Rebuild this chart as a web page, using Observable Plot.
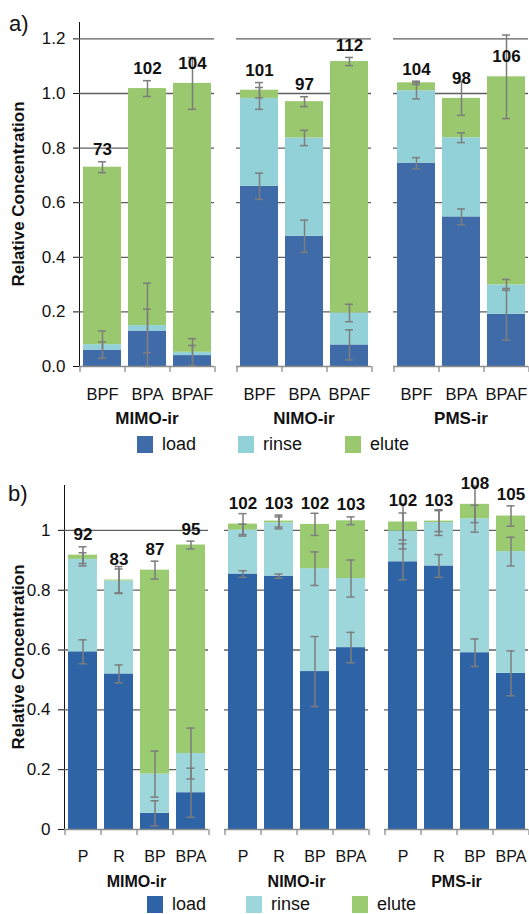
<!DOCTYPE html>
<html><head><meta charset="utf-8">
<script src="https://cdn.jsdelivr.net/npm/d3@7"></script>
<script src="https://cdn.jsdelivr.net/npm/@observablehq/plot@0.6"></script>
<style>
body{margin:0;background:#fff;font-family:"Liberation Sans",Arial,sans-serif;color:#111}
#wrap{position:relative;width:529px;height:914px;overflow:hidden}
.abs{position:absolute}
.plab{font-size:22px;line-height:1}
.ytitle{font-weight:bold;font-size:17px;white-space:nowrap;transform:translate(-50%,-50%) rotate(-90deg);line-height:1}
.legend{display:flex;font-size:18px;align-items:center;line-height:1}
.legend .item{display:flex;align-items:center}
.legend .sw{width:16px;height:17px;margin-right:9px}
svg .domain{stroke:#8c8c8c;stroke-width:1.5}
svg .tick line{stroke:#555}
</style>
</head><body>
<div id="wrap"></div>
<script>
// ---------- data ----------
const groups = ["MIMO-ir", "NIMO-ir", "PMS-ir"];
const seriesNames = ["load", "rinse", "elute"];

// panel a
const catsA = ["BPF", "BPA", "BPAF"];
const loadTopA  = [[0.06, 0.13, 0.04], [0.66, 0.477, 0.079], [0.745, 0.548, 0.191]];
const rinseTopA = [[0.08, 0.15, 0.052], [0.982, 0.837, 0.196], [1.01, 0.838, 0.299]];
const eluteTopA = [[0.73, 1.018, 1.037], [1.012, 0.97, 1.117], [1.039, 0.982, 1.061]];
const loadErrA  = [[0.03, 0.08, 0.037], [0.048, 0.059, 0.055], [0.02, 0.029, 0.095]];
const rinseErrA = [[0.05, 0.155, 0.05], [0.04, 0.028, 0.032], [0.03, 0.018, 0.02]];
const eluteErrA = [[0.02, 0.029, 0.095], [0.028, 0.018, 0.015], [0.006, 0.062, 0.153]];
const totalsA   = [[73, 102, 104], [101, 97, 112], [104, 98, 106]];
const yTicksA = [0, 0.2, 0.4, 0.6, 0.8, 1.0, 1.2];

// panel b
const catsB = ["P", "R", "BP", "BPA"];
const loadTopB  = [[0.594, 0.52, 0.054, 0.123], [0.854, 0.847, 0.528, 0.608], [0.895, 0.881, 0.591, 0.522]];
const rinseTopB = [[0.903, 0.831, 0.185, 0.254], [1.001, 1.025, 0.872, 0.839], [0.998, 1.026, 1.039, 0.929]];
const eluteTopB = [[0.917, 0.834, 0.867, 0.951], [1.021, 1.031, 1.02, 1.032], [1.028, 1.031, 1.087, 1.048]];
const loadErrB  = [[0.04, 0.03, 0.042, 0.082], [0.011, 0.007, 0.117, 0.051], [0.06, 0.038, 0.046, 0.075]];
const rinseErrB = [[0.022, 0.04, 0.077, 0.085], [0.02, 0.02, 0.056, 0.062], [0.06, 0.043, 0.045, 0.048]];
const eluteErrB = [[0.028, 0.045, 0.03, 0.013], [0.035, 0.02, 0.037, 0.013], [0.06, 0.035, 0.061, 0.034]];
const totalsB   = [[92, 83, 87, 95], [102, 103, 102, 103], [102, 103, 108, 105]];
const yTicksB = [0, 0.2, 0.4, 0.6, 0.8, 1];

const colorsA = ["#3f6ca9", "#93d1d8", "#9ac86f"];
const colorsB = ["#2e63a5", "#9dd6db", "#9acb70"];

// ---------- build ----------
function buildRows(cats, tops, errs, totals) {
  const rows = [];
  groups.forEach((g, gi) => cats.forEach((c, ci) => seriesNames.forEach((s, si) => {
    const y2 = tops[si][gi][ci];
    const y1 = si === 0 ? 0 : tops[si - 1][gi][ci];
    const err = errs[si][gi][ci];
    rows.push({group: g, cat: c, series: s, y1, y2, err, total: totals[gi][ci],
      labelY: Math.min(y2 + err, y2 + 0.03)});
  })));
  return rows;
}

const wrap = document.getElementById("wrap");
const errColor = "#7d7d7d";

function panel(o) {
  const {rows, cats, yDomain, yTicks, yFormat, marginTop, marginBottom, marginLeft, fxPad, xIn, xOut, colors, capInset, halfStep, tickDy, catSize, facetSize} = o;
  return Plot.plot({
    width: 529, height: 430, marginTop, marginBottom, marginLeft, marginRight: 0,
    style: {fontFamily: "Liberation Sans, Arial, sans-serif", fontSize: "17px", color: "#111", background: "transparent", overflow: "visible"},
    facet: {data: rows, x: "group"},
    fx: {domain: groups, axis: null, paddingInner: fxPad, paddingOuter: 0},
    x: {domain: cats, paddingInner: xIn, paddingOuter: xOut, axis: null},
    y: {domain: yDomain, ticks: yTicks, tickFormat: yFormat, tickSize: 6, tickPadding: 8, line: true, label: null},
    color: {domain: seriesNames, range: colors},
    marks: [
      Plot.ruleY(yTicks.filter(t => t > 0), {stroke: "#5f5f5f", strokeWidth: 1.3}),
      Plot.barY(rows, {x: "cat", y1: "y1", y2: "y2", fill: "series"}),
      Plot.ruleX(rows, {x: "cat", y1: d => Math.max(0, d.y2 - d.err), y2: d => d.y2 + d.err, stroke: errColor, strokeWidth: 1.5}),
      Plot.tickY(rows, {x: "cat", y: d => Math.max(0, d.y2 - d.err), stroke: errColor, strokeWidth: 1.5, insetLeft: capInset, insetRight: capInset}),
      Plot.tickY(rows, {x: "cat", y: d => d.y2 + d.err, stroke: errColor, strokeWidth: 1.5, insetLeft: capInset, insetRight: capInset}),
      Plot.ruleY([0], {stroke: "#8c8c8c", strokeWidth: 1.5}),
      Plot.ruleX(cats, {x: d => d, y1: 0, y2: 0, dx: -halfStep, insetBottom: -6, stroke: "#8c8c8c", strokeWidth: 1.3}),
      Plot.ruleX([cats[cats.length - 1]], {x: d => d, y1: 0, y2: 0, dx: halfStep, insetBottom: -6, stroke: "#8c8c8c", strokeWidth: 1.3}),
      // category tick labels
      Plot.text(rows, {filter: d => d.series === "load", x: "cat", text: "cat", frameAnchor: "bottom", lineAnchor: "middle", dy: tickDy, fontSize: catSize, fill: "#111"}),
      // totals
      Plot.text(rows, {filter: d => d.series === "elute", x: "cat", y: "labelY", text: d => String(d.total), dy: -12, fontWeight: "bold", fontSize: 17, fill: "#111"}),
      // facet names
      Plot.text(rows, {filter: d => d.cat === cats[0] && d.series === "load", text: "group", frameAnchor: "bottom", lineAnchor: "middle", dy: 52, fontWeight: "bold", fontSize: facetSize, fill: "#111"})
    ]
  });
}

function addAbs(el, left, top) {
  el.classList.add("abs");
  el.style.left = left + "px";
  el.style.top = top + "px";
  wrap.appendChild(el);
  return el;
}
function legend(colors, left, top, widths) {
  const div = document.createElement("div");
  div.className = "legend";
  seriesNames.forEach((s, i) => {
    const it = document.createElement("div");
    it.className = "item";
    it.style.width = widths[i] + "px";
    const sw = document.createElement("span");
    sw.className = "sw";
    sw.style.background = colors[i];
    const t = document.createElement("span");
    t.textContent = s;
    it.appendChild(sw); it.appendChild(t);
    div.appendChild(it);
  });
  addAbs(div, left, top);
}
function textDiv(cls, txt, left, top) {
  const d = document.createElement("div");
  d.className = cls;
  d.textContent = txt;
  addAbs(d, left, top);
}

const rowsA = buildRows(catsA, [loadTopA, rinseTopA, eluteTopA], [loadErrA, rinseErrA, eluteErrA], totalsA);
const rowsB = buildRows(catsB, [loadTopB, rinseTopB, eluteTopB], [loadErrB, rinseErrB, eluteErrB], totalsB);

const svgA = panel({rows: rowsA, cats: catsA, yDomain: [0, 1.26], yTicks: yTicksA, yFormat: d3.format(".1f"),
  marginTop: 22, marginBottom: 64, marginLeft: 79, fxPad: 0.14, xIn: 0.16, xOut: 0.08, colors: colorsA,
  capInset: 15, halfStep: 22.5, tickDy: 28, catSize: 16.5, facetSize: 17});
addAbs(svgA, 0, 0);

const svgB = panel({rows: rowsB, cats: catsB, yDomain: [0, 1.15], yTicks: yTicksB, yFormat: d => String(d),
  marginTop: 23, marginBottom: 63, marginLeft: 63, fxPad: 0.1, xIn: 0.2, xOut: 0.1, colors: colorsB,
  capInset: 10.5, halfStep: 18, tickDy: 27, catSize: 16, facetSize: 16});
addAbs(svgB, 0, 462);

legend(colorsA, 137, 435, [101, 107, 80]);
legend(colorsB, 147, 895, [99, 106, 80]);

textDiv("plab", "a)", 9, 13);
textDiv("plab", "b)", 8, 483);
textDiv("ytitle", "Relative Concentration", 18, 194);
textDiv("ytitle", "Relative Concentration", 18, 657);
</script>
</body></html>
